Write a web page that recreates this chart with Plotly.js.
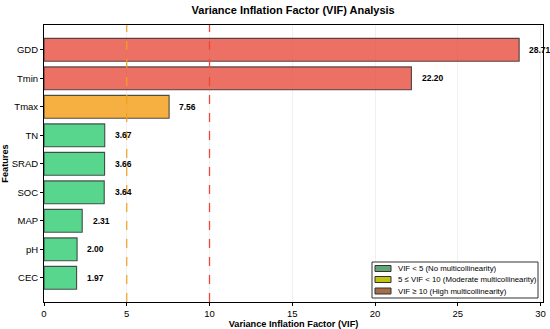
<!DOCTYPE html>
<html>
<head>
<meta charset="utf-8">
<script src="https://cdn.plot.ly/plotly-3.0.1.min.js"></script>
<style>html,body{margin:0;padding:0;background:#fff;}#chart{width:550px;height:329px;}</style>
</head>
<body>
<div id="chart"></div>
<script>
const features = ["GDD", "Tmin", "Tmax", "TN", "SRAD", "SOC", "MAP", "pH", "CEC"];
const vifValues = [28.71, 22.20, 7.56, 3.67, 3.66, 3.64, 2.31, 2.00, 1.97];
const thresholds = [5, 10];
const legendLabels = ["VIF < 5 (No multicollinearity)", "5 \u2264 VIF < 10 (Moderate multicollinearity)", "VIF \u2265 10 (High multicollinearity)"];

const FONT = "Liberation Sans, Arial, sans-serif";
function barColor(v) {
  if (v >= 10) return "rgba(231,76,60,0.8)";
  if (v >= 5) return "rgba(243,156,18,0.8)";
  return "rgba(46,204,113,0.8)";
}

const trace = {
  type: "bar",
  orientation: "h",
  y: features,
  x: vifValues,
  width: 0.8,
  marker: {color: vifValues.map(barColor), line: {color: "rgba(40,40,40,0.8)", width: 1.1}},
  showlegend: false,
  hoverinfo: "x+y"
};

const annotations = features.map((f, i) => ({
  x: vifValues[i] + 0.5, y: f, xref: "x", yref: "y",
  text: vifValues[i].toFixed(2), showarrow: false, xanchor: "left",
  font: {family: FONT, size: 8.5, color: "#000", weight: "bold"}
}));

const legendPatchColors = ["rgba(100,165,115,1)", "rgba(195,195,20,1)", "rgba(165,110,70,1)"];
const shapes = [
  {type: "line", xref: "x", yref: "paper", x0: thresholds[0], x1: thresholds[0], y0: 0, y1: 1,
   line: {color: "rgb(243,160,30)", width: 1.2, dash: "dash"}, layer: "above"},
  {type: "line", xref: "x", yref: "paper", x0: thresholds[1], x1: thresholds[1], y0: 0, y1: 1,
   line: {color: "rgb(240,70,55)", width: 1.3, dash: "dash"}, layer: "above"}
];
const pl = 44, pr = 543, pt = 25, pb = 302;
const px = x => (x - pl) / (pr - pl);
const py = y => (pb - y) / (pb - pt);
shapes.push({type: "rect", xref: "paper", yref: "paper", x0: px(372), x1: px(538), y0: py(298), y1: py(262),
  fillcolor: "rgba(255,255,255,0.9)", line: {color: "#333", width: 1}});
const rowsY = [268.5, 279.5, 291];
legendLabels.forEach((t, i) => {
  shapes.push({type: "rect", xref: "paper", yref: "paper", x0: px(375), x1: px(391), y0: py(rowsY[i] + 3), y1: py(rowsY[i] - 3),
    fillcolor: legendPatchColors[i], line: {color: "#333", width: 1}});
  annotations.push({xref: "paper", yref: "paper", x: px(396), y: py(rowsY[i]), text: t, showarrow: false,
    xanchor: "left", yanchor: "middle", font: {family: FONT, size: 7.8, color: "#000"}});
});

const layout = {
  width: 550, height: 329,
  margin: {l: 44, r: 7, t: 25, b: 27, pad: 0},
  paper_bgcolor: "#fff", plot_bgcolor: "#fff",
  font: {family: FONT, size: 9, color: "#000"},
  title: {text: "Variance Inflation Factor (VIF) Analysis", x: 0.533, xanchor: "center", y: 0.982, yanchor: "top",
    font: {family: FONT, size: 11, weight: "bold", color: "#000"}},
  xaxis: {range: [0, 30.15], tickvals: [0, 5, 10, 15, 20, 25, 30], showgrid: true, gridcolor: "#ececec", gridwidth: 0.8,
    zeroline: false, showline: true, linecolor: "#000", linewidth: 1, mirror: true,
    ticks: "outside", ticklen: 3, tickcolor: "#000", tickfont: {size: 9.5},
    title: {text: "Variance Inflation Factor (VIF)", standoff: 3, font: {size: 9.2, weight: "bold"}}},
  yaxis: {type: "category", categoryorder: "array", categoryarray: features, range: [8.85, -0.87],
    showgrid: false, zeroline: false, showline: true, linecolor: "#000", linewidth: 1, mirror: true,
    ticks: "outside", ticklen: 3, tickcolor: "#000", tickfont: {size: 9.5},
    title: {text: "Features", standoff: 6, font: {size: 9.2, weight: "bold"}}},
  shapes: shapes,
  annotations: annotations,
  bargap: 0.2
};

Plotly.newPlot("chart", [trace], layout, {displayModeBar: false, staticPlot: true});
</script>
</body>
</html>
